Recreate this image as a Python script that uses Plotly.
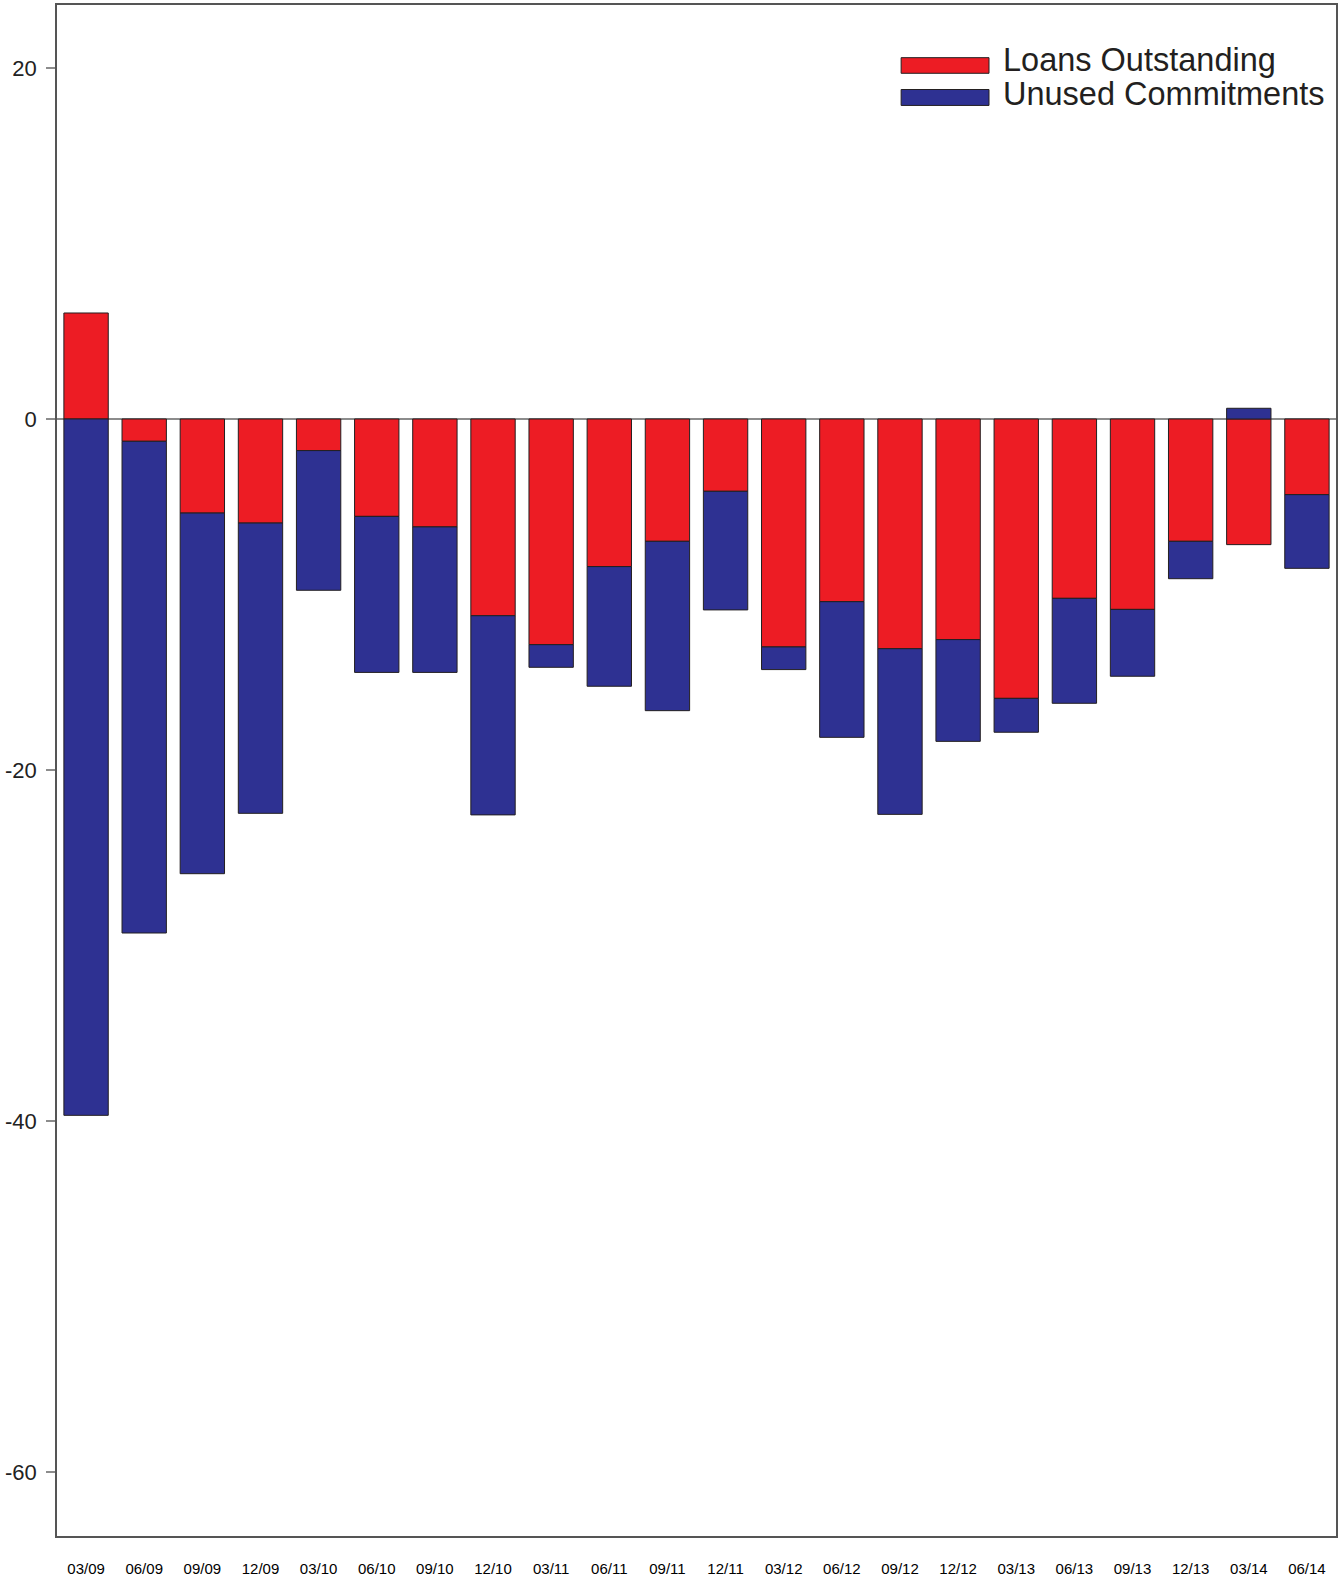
import plotly.graph_objects as go

quarters = ["03/09", "06/09", "09/09", "12/09", "03/10", "06/10", "09/10", "12/10",
            "03/11", "06/11", "09/11", "12/11", "03/12", "06/12", "09/12", "12/12",
            "03/13", "06/13", "09/13", "12/13", "03/14", "06/14"]
loans_outstanding = [6.04, -1.27, -5.36, -5.93, -1.80, -5.55, -6.15, -11.21,
                     -12.86, -8.41, -6.97, -4.12, -12.99, -10.41, -13.09, -12.57,
                     -15.92, -10.22, -10.85, -6.97, -7.16, -4.31]
unused_commitments = [-39.68, -28.02, -20.55, -16.54, -7.96, -8.89, -8.29, -11.35,
                      -1.29, -6.82, -9.65, -6.76, -1.29, -7.73, -9.44, -5.80,
                      -1.93, -5.98, -3.81, -2.13, 0.61, -4.20]
y_ticks = [-60, -40, -20, 0, 20]
series_names = ["Loans Outstanding", "Unused Commitments"]

RED = "#ED1C24"
BLUE = "#2E3192"
OUTLINE = "#231F20"

fig = go.Figure()
fig.add_trace(go.Bar(x=quarters, y=loans_outstanding, name=series_names[0],
                     marker=dict(color=RED, line=dict(color=OUTLINE, width=1))))
fig.add_trace(go.Bar(x=quarters, y=unused_commitments, name=series_names[1],
                     marker=dict(color=BLUE, line=dict(color=OUTLINE, width=1))))

# custom legend (wide swatches)
sw_x0, sw_x1 = 0.660, 0.7287
fig.add_shape(type="rect", xref="paper", yref="paper", x0=sw_x0, x1=sw_x1,
              y0=0.9554, y1=0.9656, fillcolor=RED, line=dict(color=OUTLINE, width=1))
fig.add_shape(type="rect", xref="paper", yref="paper", x0=sw_x0, x1=sw_x1,
              y0=0.9344, y1=0.9448, fillcolor=BLUE, line=dict(color=OUTLINE, width=1))
for name, yy in zip(series_names, [0.9640, 0.9420]):
    fig.add_annotation(text=name, xref="paper", yref="paper", x=0.7380, y=yy,
                       xanchor="left", yanchor="middle", showarrow=False,
                       font=dict(family="Liberation Sans, Arial, sans-serif", size=32.5, color="#231F20"))

fig.update_layout(
    barmode="relative",
    bargap=0.237,
    width=1342, height=1579,
    margin=dict(l=57, r=6, t=5, b=43, autoexpand=False),
    paper_bgcolor="white", plot_bgcolor="white",
    showlegend=False,
)
fig.update_xaxes(
    type="category", range=[-0.5, len(quarters) - 0.5],
    showgrid=False, zeroline=False, automargin=False,
    showline=True, linecolor="#555555", linewidth=1.5, mirror=True,
    ticks="", ticklabelstandoff=18,
    tickfont=dict(family="Liberation Sans Narrow, Arial Narrow, Liberation Sans, sans-serif", size=15, color="#000000"),
)
fig.update_yaxes(
    range=[-63.65, 23.59], tickvals=y_ticks, ticktext=[str(v) for v in y_ticks],
    showgrid=False, automargin=False,
    zeroline=True, zerolinecolor="#8c8c8c", zerolinewidth=2,
    showline=True, linecolor="#555555", linewidth=1.5, mirror=True,
    ticks="outside", ticklen=9, tickcolor="#8c8c8c", tickwidth=1.5,
    ticklabelstandoff=5,
    tickfont=dict(family="Liberation Sans, Arial, sans-serif", size=22, color="#222222"),
)

fig.write_html("out.html", config={"displayModeBar": False},
               post_script="document.body.style.margin='0';")
